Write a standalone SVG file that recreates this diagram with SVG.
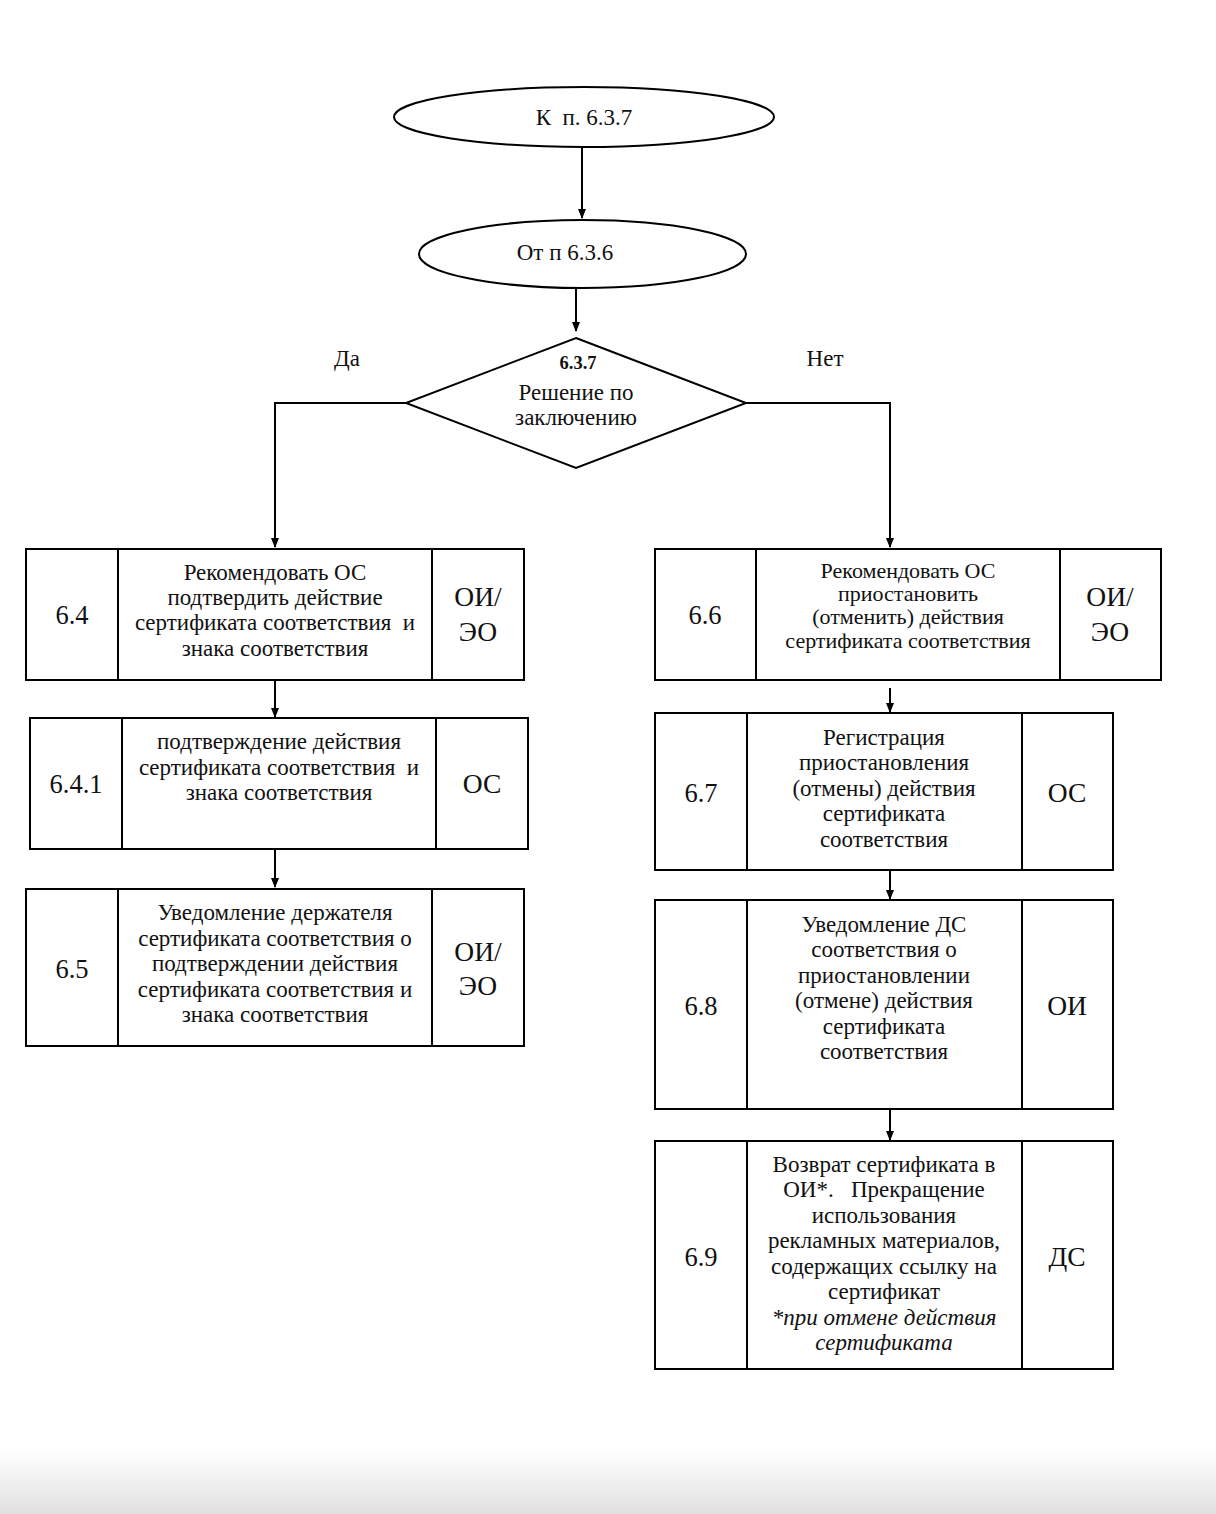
<svg xmlns="http://www.w3.org/2000/svg" width="1216" height="1514" viewBox="0 0 1216 1514">
<defs>
<linearGradient id="bot" x1="0" y1="0" x2="0" y2="1">
<stop offset="0" stop-color="#ffffff"/>
<stop offset="1" stop-color="#e0e0e0"/>
</linearGradient>
<marker id="ah" markerWidth="10" markerHeight="10" refX="9" refY="5" orient="auto" markerUnits="userSpaceOnUse">
<path d="M0,1 L10,5 L0,9 Z" fill="#000"/>
</marker>
</defs>
<style>
.s{fill:#fff;stroke:#000;stroke-width:2}
.l{fill:none;stroke:#000;stroke-width:2}
text{font-family:"Liberation Serif","Times New Roman",serif;fill:#111;text-anchor:middle}
.t{font-size:23px}
.t6{font-size:22px}
.n{font-size:26.5px}
.r{font-size:27.5px}
.i{font-size:23px;font-style:italic}
.b{font-size:18.5px;font-weight:bold}
</style>
<rect x="0" y="0" width="1216" height="1514" fill="#fff"/>
<rect x="0" y="1450" width="1216" height="64" fill="url(#bot)"/>

<g id="connectors">
<line class="l" x1="582" y1="147" x2="582" y2="218" marker-end="url(#ah)"/>
<line class="l" x1="576" y1="288" x2="576" y2="331" marker-end="url(#ah)"/>
<polyline class="l" points="406,403 275,403 275,547" marker-end="url(#ah)"/>
<polyline class="l" points="746,403 890,403 890,547" marker-end="url(#ah)"/>
<line class="l" x1="275" y1="680" x2="275" y2="717" marker-end="url(#ah)"/>
<line class="l" x1="275" y1="849" x2="275" y2="887" marker-end="url(#ah)"/>
<line class="l" x1="890" y1="688" x2="890" y2="712" marker-end="url(#ah)"/>
<line class="l" x1="890" y1="870" x2="890" y2="899" marker-end="url(#ah)"/>
<line class="l" x1="890" y1="1109" x2="890" y2="1140" marker-end="url(#ah)"/>
<text class="t" x="347" y="366">Да</text>
<text class="t" x="825" y="366">Нет</text>
</g>

<g id="start">
<ellipse class="s" cx="584" cy="117" rx="190" ry="30"/>
<text class="t" x="584" y="125" xml:space="preserve">К  п. 6.3.7</text>
</g>

<g id="from636">
<ellipse class="s" cx="582.5" cy="254" rx="163.5" ry="34"/>
<text class="t" x="565" y="260">От п 6.3.6</text>
</g>

<g id="decision">
<polygon class="s" points="576,338 746,403 576,468 406,403"/>
<text class="b" x="578" y="369">6.3.7</text>
<text class="t" x="576" y="400">Решение по</text>
<text class="t" x="576" y="425">заключению</text>
</g>

<g id="n64">
<rect class="s" x="26" y="549" width="498" height="131"/>
<line class="l" x1="118" y1="549" x2="118" y2="680"/>
<line class="l" x1="432" y1="549" x2="432" y2="680"/>
<text class="n" x="72" y="624">6.4</text>
<text class="t" x="275" y="580">Рекомендовать ОС</text>
<text class="t" x="275" y="605">подтвердить действие</text>
<text class="t" x="275" y="630" xml:space="preserve">сертификата соответствия  и</text>
<text class="t" x="275" y="656">знака соответствия</text>
<text class="r" x="478" y="606">ОИ/</text>
<text class="r" x="478" y="641">ЭО</text>
</g>

<g id="n641">
<rect class="s" x="30" y="718" width="498" height="131"/>
<line class="l" x1="122" y1="718" x2="122" y2="849"/>
<line class="l" x1="436" y1="718" x2="436" y2="849"/>
<text class="n" x="76" y="793">6.4.1</text>
<text class="t" x="279" y="749">подтверждение действия</text>
<text class="t" x="279" y="775" xml:space="preserve">сертификата соответствия  и</text>
<text class="t" x="279" y="800">знака соответствия</text>
<text class="r" x="482" y="793">ОС</text>
</g>

<g id="n65">
<rect class="s" x="26" y="889" width="498" height="157"/>
<line class="l" x1="118" y1="889" x2="118" y2="1046"/>
<line class="l" x1="432" y1="889" x2="432" y2="1046"/>
<text class="n" x="72" y="978">6.5</text>
<text class="t" x="275" y="920">Уведомление держателя</text>
<text class="t" x="275" y="946">сертификата соответствия о</text>
<text class="t" x="275" y="971">подтверждении действия</text>
<text class="t" x="275" y="997">сертификата соответствия и</text>
<text class="t" x="275" y="1022">знака соответствия</text>
<text class="r" x="478" y="961">ОИ/</text>
<text class="r" x="478" y="995">ЭО</text>
</g>

<g id="n66">
<rect class="s" x="655" y="549" width="506" height="131"/>
<line class="l" x1="756" y1="549" x2="756" y2="680"/>
<line class="l" x1="1060" y1="549" x2="1060" y2="680"/>
<text class="n" x="705" y="624">6.6</text>
<text class="t6" x="908" y="578">Рекомендовать ОС</text>
<text class="t6" x="908" y="601">приостановить</text>
<text class="t6" x="908" y="624">(отменить) действия</text>
<text class="t6" x="908" y="648">сертификата соответствия</text>
<text class="r" x="1110" y="606">ОИ/</text>
<text class="r" x="1110" y="641">ЭО</text>
</g>

<g id="n67">
<rect class="s" x="655" y="713" width="458" height="157"/>
<line class="l" x1="747" y1="713" x2="747" y2="870"/>
<line class="l" x1="1022" y1="713" x2="1022" y2="870"/>
<text class="n" x="701" y="802">6.7</text>
<text class="t" x="884" y="745">Регистрация</text>
<text class="t" x="884" y="770">приостановления</text>
<text class="t" x="884" y="796">(отмены) действия</text>
<text class="t" x="884" y="821">сертификата</text>
<text class="t" x="884" y="847">соответствия</text>
<text class="r" x="1067" y="802">ОС</text>
</g>

<g id="n68">
<rect class="s" x="655" y="900" width="458" height="209"/>
<line class="l" x1="747" y1="900" x2="747" y2="1109"/>
<line class="l" x1="1022" y1="900" x2="1022" y2="1109"/>
<text class="n" x="701" y="1015">6.8</text>
<text class="t" x="884" y="932">Уведомление ДС</text>
<text class="t" x="884" y="957">соответствия о</text>
<text class="t" x="884" y="983">приостановлении</text>
<text class="t" x="884" y="1008">(отмене) действия</text>
<text class="t" x="884" y="1034">сертификата</text>
<text class="t" x="884" y="1059">соответствия</text>
<text class="r" x="1067" y="1015">ОИ</text>
</g>

<g id="n69">
<rect class="s" x="655" y="1141" width="458" height="228"/>
<line class="l" x1="747" y1="1141" x2="747" y2="1369"/>
<line class="l" x1="1022" y1="1141" x2="1022" y2="1369"/>
<text class="n" x="701" y="1266">6.9</text>
<text class="t" x="884" y="1172">Возврат сертификата в</text>
<text class="t" x="884" y="1197" xml:space="preserve">ОИ*.   Прекращение</text>
<text class="t" x="884" y="1223">использования</text>
<text class="t" x="884" y="1248">рекламных материалов,</text>
<text class="t" x="884" y="1274">содержащих ссылку на</text>
<text class="t" x="884" y="1299">сертификат</text>
<text class="i" x="884" y="1325">*при отмене действия</text>
<text class="i" x="884" y="1350">сертификата</text>
<text class="r" x="1067" y="1266">ДС</text>
</g>
</svg>
